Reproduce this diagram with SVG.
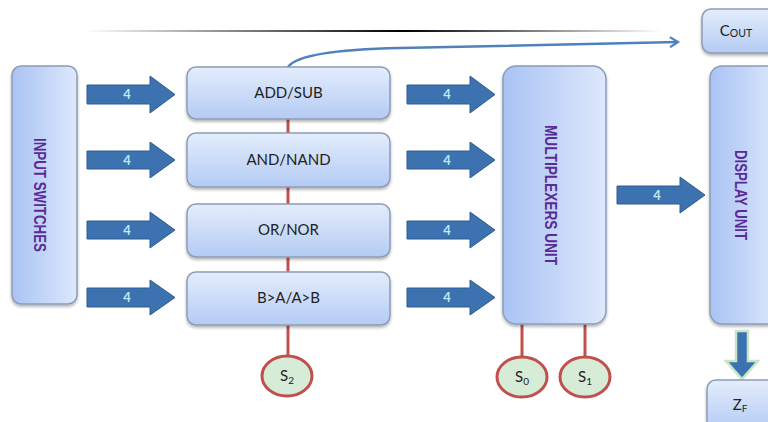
<svg xmlns="http://www.w3.org/2000/svg" width="768" height="422" viewBox="0 0 768 422">
<style>
.box{fill:url(#gv);stroke:#8d9cb6;stroke-width:1.5}
.tall{fill:url(#gh);stroke:#8d9cb6;stroke-width:1.5}
.lbl{font-family:Lato,"Open Sans",sans-serif;font-size:15px;fill:#222;text-anchor:middle}
.vt{font-family:"Liberation Sans",Arial,sans-serif;font-weight:bold;font-size:16px;fill:#5a2a96;text-anchor:middle}
.arr{fill:#3d72b0;stroke:#2e5b90;stroke-width:1}
.num{font-family:Lato,"Open Sans",sans-serif;font-size:13px;fill:#bfe9f2;text-anchor:middle;font-weight:bold}
.red{stroke:#c0504d;stroke-width:3}
.sel{fill:#d7ecd7;stroke:#c0504d;stroke-width:3}
.stx{font-family:Lato,"Open Sans",sans-serif;font-size:15px;fill:#222;text-anchor:middle}
</style>
<defs>
<linearGradient id="gv" x1="0" y1="0" x2="0" y2="1"><stop offset="0" stop-color="#e3edfc"/><stop offset="1" stop-color="#b4cbf4"/></linearGradient>
<linearGradient id="gh" x1="0" y1="0" x2="1" y2="0"><stop offset="0" stop-color="#a9c3f4"/><stop offset="1" stop-color="#dde8fc"/></linearGradient>
<linearGradient id="gl" gradientUnits="userSpaceOnUse" x1="85" y1="0" x2="662" y2="0"><stop offset="0" stop-color="#000" stop-opacity="0"/><stop offset="0.55" stop-color="#000" stop-opacity="1"/><stop offset="0.6" stop-color="#000" stop-opacity="0.9"/><stop offset="1" stop-color="#000" stop-opacity="0"/></linearGradient>
<filter id="sh" x="-10%" y="-10%" width="120%" height="130%"><feDropShadow dx="0" dy="2" stdDeviation="1.5" flood-color="#000" flood-opacity="0.3"/></filter>
<marker id="open" markerWidth="12" markerHeight="12" refX="9" refY="6" orient="auto" markerUnits="userSpaceOnUse"><path d="M1,1 L9,6 L1,11" fill="none" stroke="#4f81bd" stroke-width="2.2"/></marker>
</defs>
<rect width="768" height="422" fill="#fff"/>
<line x1="85" y1="31" x2="662" y2="31" stroke="url(#gl)" stroke-width="2"/>

<g id="connectors">
<path d="M288,67 Q300,50 400,48 Q540,45 678,42" fill="none" stroke="#4f81bd" stroke-width="2.5" marker-end="url(#open)"/>
<line class="red" x1="288" y1="119" x2="288" y2="133"/>
<line class="red" x1="288" y1="187" x2="288" y2="204"/>
<line class="red" x1="288" y1="257" x2="288" y2="272"/>
<line class="red" x1="288" y1="325" x2="288" y2="355"/>
<line class="red" x1="522" y1="324" x2="522" y2="357"/>
<line class="red" x1="585" y1="324" x2="585" y2="357"/>
<g id="arrowsL">
<polygon class="arr" points="87,85 150,85 150,76 175,94.5 150,113 150,104 87,104"/>
<polygon class="arr" points="87,151 150,151 150,142 175,160 150,178 150,169 87,169"/>
<polygon class="arr" points="87,221 150,221 150,212 175,230 150,248 150,239 87,239"/>
<polygon class="arr" points="87,288 150,288 150,280 175,297.5 150,315 150,307 87,307"/>
<text class="num" x="127" y="99">4</text><text class="num" x="127" y="165">4</text><text class="num" x="127" y="235">4</text><text class="num" x="127" y="302">4</text>
</g>
<g id="arrowsR">
<polygon class="arr" points="407,85 470,85 470,76 495,94.5 470,113 470,104 407,104"/>
<polygon class="arr" points="407,151 470,151 470,142 495,160 470,178 470,169 407,169"/>
<polygon class="arr" points="407,221 470,221 470,212 495,230 470,248 470,239 407,239"/>
<polygon class="arr" points="407,288 470,288 470,280 495,297.5 470,315 470,307 407,307"/>
<text class="num" x="447" y="99">4</text><text class="num" x="447" y="165">4</text><text class="num" x="447" y="235">4</text><text class="num" x="447" y="302">4</text>
</g>
<polygon class="arr" points="617,186 680,186 680,177 705,195 680,213 680,204 617,204"/>
<text class="num" x="657" y="200">4</text>
<g id="downArrow">
<polygon points="736,331 748,331 748,361 758,361 742,379 726,361 736,361" fill="#3d72b0" stroke="#c6e6c6" stroke-width="2.5"/>
</g>
</g>

<g id="inputSwitches"><rect class="tall" x="12" y="66" width="65" height="238" rx="9" filter="url(#sh)"/>
<text class="vt" transform="translate(34,195) rotate(90)" textLength="114" lengthAdjust="spacingAndGlyphs">INPUT SWITCHES</text></g>

<g id="addSub"><rect class="box" x="187" y="67" width="203" height="52" rx="9" filter="url(#sh)"/><text class="lbl" x="288.5" y="98">ADD/SUB</text></g>
<g id="andNand"><rect class="box" x="187" y="133" width="203" height="54" rx="9" filter="url(#sh)"/><text class="lbl" x="288.5" y="165">AND/NAND</text></g>
<g id="orNor"><rect class="box" x="187" y="204" width="203" height="53" rx="9" filter="url(#sh)"/><text class="lbl" x="288.5" y="235">OR/NOR</text></g>
<g id="compare"><rect class="box" x="187" y="272" width="203" height="53" rx="9" filter="url(#sh)"/><text class="lbl" x="288.5" y="303">B&gt;A/A&gt;B</text></g>

<g id="mux"><rect class="tall" x="503" y="66" width="103" height="258" rx="13" filter="url(#sh)"/>
<text class="vt" transform="translate(545,195) rotate(90)" textLength="140" lengthAdjust="spacingAndGlyphs">MULTIPLEXERS UNIT</text></g>

<g id="display"><rect class="tall" x="710" y="66" width="70" height="258" rx="12" filter="url(#sh)"/>
<text class="vt" transform="translate(735,195) rotate(90)" textLength="90" lengthAdjust="spacingAndGlyphs">DISPLAY UNIT</text></g>

<g id="cout"><rect class="box" x="702" y="9" width="80" height="44" rx="9" filter="url(#sh)"/>
<text class="stx" x="736" y="36" font-size="15">C<tspan font-size="10.5" dy="1">OUT</tspan></text></g>

<g id="zf"><rect class="box" x="707" y="380" width="80" height="50" rx="9" filter="url(#sh)"/>
<text class="stx" x="740" y="410" font-size="15">Z<tspan font-size="10" dy="2">F</tspan></text></g>

<g id="s2"><ellipse class="sel" cx="287" cy="376" rx="25" ry="20"/><text class="stx" x="287" y="381">S<tspan font-size="10" dy="3">2</tspan></text></g>
<g id="s0"><ellipse class="sel" cx="522" cy="377" rx="25" ry="20"/><text class="stx" x="522" y="382">S<tspan font-size="10" dy="3">0</tspan></text></g>
<g id="s1"><ellipse class="sel" cx="585" cy="377" rx="25" ry="20"/><text class="stx" x="585" y="382">S<tspan font-size="10" dy="3">1</tspan></text></g>
</svg>
